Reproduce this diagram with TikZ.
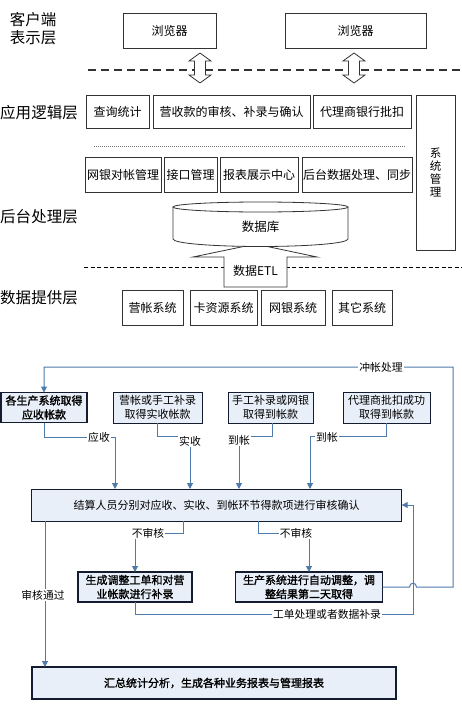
\documentclass[tikz,border=0pt]{standalone}
\usepackage{fontspec}
\setmainfont{Noto Sans CJK SC}
\newfontfamily\cjkb{Noto Sans CJK SC}[FakeBold=1.6]
\usetikzlibrary{arrows.meta}
\definecolor{boxfill}{RGB}{233,239,248}
\definecolor{navy}{RGB}{20,28,48}
\definecolor{lineblue}{RGB}{79,122,172}
\tikzset{
  tbox/.style={draw=black!80, line width=0.9pt, fill=white, inner sep=0pt, outer sep=0pt, align=center, font=\fontsize{12}{14}\selectfont},
  layer/.style={font=\fontsize{15.5}{18}\selectfont, align=left, inner sep=0pt},
  fbox/.style={draw=navy, line width=1pt, fill=boxfill, inner sep=0pt, outer sep=0pt, align=center, font=\fontsize{11}{14}\selectfont},
  fboxb/.style={fbox, line width=1.4pt, font=\cjkb\fontsize{11}{14}\selectfont},
  flow/.style={draw=lineblue, line width=1pt, -{Triangle[length=6pt,width=6pt]}},
  lbl/.style={fill=white, inner sep=1pt, font=\fontsize{10.8}{12}\selectfont},
  dblarrow/.pic={\draw[fill=white, line width=0.8pt, draw=black!80] (0,-15) -- (11,-7) -- (5.5,-7) -- (5.5,7) -- (11,7) -- (0,15) -- (-11,7) -- (-5.5,7) -- (-5.5,-7) -- (-11,-7) -- cycle;}
}
\begin{document}
\begin{tikzpicture}[x=1pt,y=-1pt]
\fill[white] (0,0) rectangle (462,706);
\useasboundingbox (0,0) rectangle (462,706);

% ---------- top: layered architecture ----------
\node[layer] (l1) at (33,29) {客户端\\表示层};
\node[layer] (l2) at (39,113) {应用逻辑层};
\node[layer] (l3) at (39,217) {后台处理层};
\node[layer] (l4) at (39,298) {数据提供层};

\node[tbox, minimum width=93pt, minimum height=35pt] (b1) at (169.5,30.5) {浏览器};
\node[tbox, minimum width=141pt, minimum height=35pt] (b2) at (355.5,30.5) {浏览器};

\draw[black!80, line width=1.8pt, dash pattern=on 8pt off 5pt] (88,70) -- (462,70);
\pic at (200,68) {dblarrow};
\pic at (354,68) {dblarrow};

\begin{scope}[every node/.append style={font=\fontsize{12.8}{14}\selectfont}]
\node[tbox, minimum width=63pt, minimum height=33pt] (r1a) at (117.5,111.5) {查询统计};
\node[tbox, minimum width=157pt, minimum height=33pt] (r1b) at (231.5,111.5) {营收款的审核、补录与确认};
\node[tbox, minimum width=98pt, minimum height=33pt] (r1c) at (362,111.5) {代理商银行批扣};
\end{scope}
\node[tbox, minimum width=39pt, minimum height=155pt, font=\fontsize{11.5}{13.3}\selectfont] (sys) at (435.5,172.5) {系\\统\\管\\理};

\draw[black!55, line width=0.6pt, dash pattern=on 1pt off 1pt] (94,146) -- (405,146);

\begin{scope}[every node/.append style={font=\fontsize{11.6}{14}\selectfont}]
\node[tbox, minimum width=76pt, minimum height=35pt] (r2a) at (123,174.5) {网银对帐管理};
\node[tbox, minimum width=53pt, minimum height=35pt] (r2b) at (190.5,174.5) {接口管理};
\node[tbox, minimum width=78pt, minimum height=35pt] (r2c) at (259,174.5) {报表展示中心};
\node[tbox, minimum width=110pt, minimum height=35pt] (r2d) at (357,174.5) {后台数据处理、同步};
\end{scope}

% dashed line + ETL arrow + database
\draw[black, line width=0.7pt, dash pattern=on 4pt off 2.5pt] (84,267) -- (462,267);
\draw[fill=white, line width=0.8pt, draw=black!80] (224,287) -- (224,257) -- (193,257) -- (255.5,244) -- (317,257) -- (287,257) -- (287,287) -- cycle;
\node[font=\fontsize{12}{14}\selectfont, inner sep=0pt] (etl) at (255.5,271) {数据ETL};
\draw[fill=white, line width=0.8pt, draw=black!80] (173,207) -- (173,239) .. controls (173,243.5) and (215,246.5) .. (260.5,246.5) .. controls (306,246.5) and (348,243.5) .. (348,239) -- (348,207);
\draw[fill=white, line width=0.8pt, draw=black!80] (260.5,207) ellipse [x radius=87.5, y radius=5];
\node[font=\fontsize{12.5}{14}\selectfont, inner sep=0pt] (db) at (260.5,227) {数据库};

\node[tbox, minimum width=61pt, minimum height=35pt] (s1) at (152.5,307.5) {营帐系统};
\node[tbox, minimum width=67pt, minimum height=35pt] (s2) at (223.5,307.5) {卡资源系统};
\node[tbox, minimum width=64pt, minimum height=35pt] (s3) at (293,307.5) {网银系统};
\node[tbox, minimum width=60pt, minimum height=35pt] (s4) at (362,307.5) {其它系统};

% ---------- bottom: flow chart ----------
\node[fboxb, line width=1.8pt, minimum width=86pt, minimum height=30pt] (A) at (44,407.5) {各生产系统取得\\应收帐款};
\node[fbox, minimum width=89pt, minimum height=31pt] (B) at (157.5,407.5) {营帐或手工补录\\取得实收帐款};
\node[fbox, minimum width=85pt, minimum height=31pt] (C) at (270.5,407.5) {手工补录或网银\\取得到帐款};
\node[fbox, minimum width=87pt, minimum height=31pt] (D) at (386.5,407.5) {代理商批扣成功\\取得到帐款};
\node[fbox, minimum width=370pt, minimum height=32pt] (R) at (216.7,505) {结算人员分别对应收、实收、到帐环节得款项进行审核确认};
\node[fboxb, minimum width=114pt, minimum height=30pt] (E) at (135,587) {生成调整工单和对营\\业帐款进行补录};
\node[fboxb, minimum width=147pt, minimum height=30pt] (F) at (309,587) {生产系统进行自动调整，调\\整结果第二天取得};
\node[fboxb, minimum width=364pt, minimum height=32pt] (G) at (214,683) {汇总统计分析，生成各种业务报表与管理报表};

\coordinate (xa) at (115,437);
\coordinate (xb) at (190,436);
\coordinate (xc) at (239,436);
\coordinate (xd) at (310,436);
\draw[flow] (A.south) |- (xa) -- (xa |- R.north);
\draw[flow] (B.south) |- (xb) -- (xb |- R.north);
\draw[flow] ([xshift=2pt]C.south) |- (xc) -- (xc |- R.north);
\draw[flow] (D.south) |- (xd) -- (xd |- R.north);

\coordinate (n1) at (183,533);
\coordinate (n3) at (258,533);
\coordinate (n5) at (45,521);
\coordinate (v1) at (413,614);
\coordinate (w2) at (44,367);
\draw[flow] (R.south -| n1) -- (n1) -| (E.north);
\draw[flow] (R.south -| n3) -- (n3) -| (F.north);
\draw[flow] (R.south -| n5) -- (G.north -| n5);
\draw[flow] (E.south) |- (v1) |- (R.east);
\draw[flow] (F.east) -- (409.5,587) .. controls (409.5,582) and (416.5,582) .. (416.5,587) -- (453,587) |- (w2) -- (A.north);

\node[lbl] (la) at (99,437) {应收};
\node[lbl] (lb) at (190,441) {实收};
\node[lbl] (lc) at (239,440) {到帐};
\node[lbl] (ld) at (327,437) {到帐};
\node[lbl] (le) at (148,533) {不审核};
\node[lbl] (lf) at (296,533) {不审核};
\node[lbl] (lg) at (43,595) {审核通过};
\node[lbl] (lh) at (327,614) {工单处理或者数据补录};
\node[lbl] (li) at (381,367) {冲帐处理};
\end{tikzpicture}
\end{document}
